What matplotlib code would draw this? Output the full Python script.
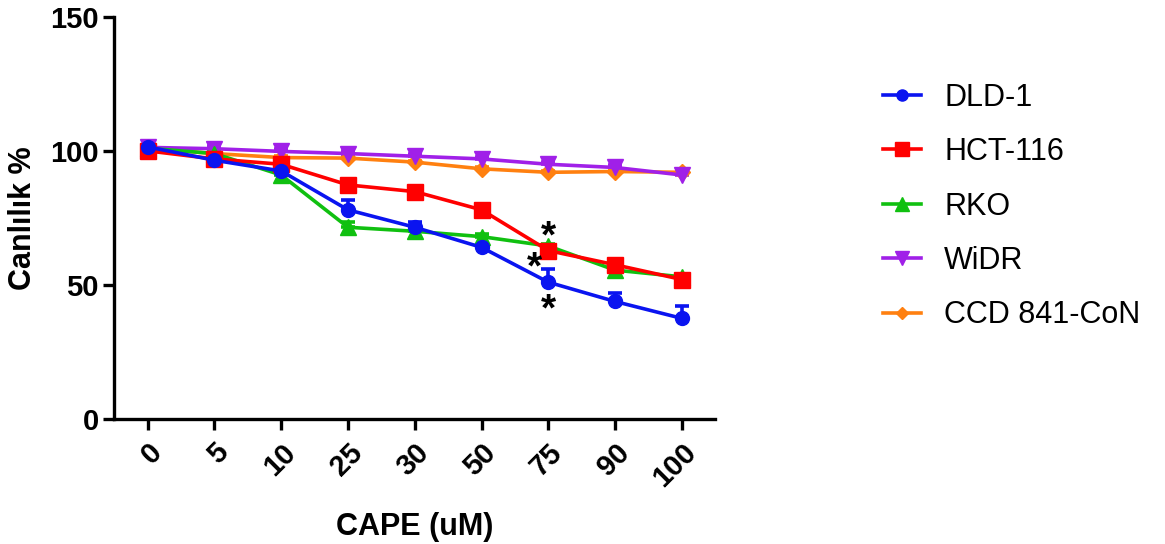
import matplotlib.pyplot as plt
import numpy as np
from matplotlib.lines import Line2D

plt.rcParams["font.family"] = ["Liberation Sans", "DejaVu Sans"]

doses = ["0", "5", "10", "25", "30", "50", "75", "90", "100"]

dld1 = [101.5, 96.5, 92.5, 78, 71.5, 64, 51, 43.8, 37.5]
dld1_err = [0.8, 0.8, 1.0, 3.7, 2.0, 0.8, 4.8, 3.2, 4.5]
hct116 = [100, 97, 95, 87.3, 84.8, 78, 62.8, 57.5, 52]
hct116_err = [0.5, 0.5, 0.6, 0.8, 0.8, 0.8, 1.0, 1.0, 0.8]
rko = [101, 99, 91, 71.5, 70, 68, 64.5, 55.5, 53]
rko_err = [0.5, 0.5, 0.8, 1.8, 1.2, 0.8, 0.8, 1.0, 0.5]
widr = [101.3, 100.8, 99.8, 99, 98, 97, 95, 93.8, 91]
widr_err = [0.5, 1.0, 1.0, 1.0, 0.8, 0.8, 0.8, 0.8, 0.5]
ccd = [101, 99, 97.5, 97.3, 95.8, 93.3, 92, 92.3, 92]
ccd_err = [0.5, 0.5, 0.5, 0.5, 0.5, 0.5, 0.5, 0.5, 0.5]

# significance stars at 75 uM: (series value, y offset, x offset)
stars = [(rko[6], 3.0, 0.0), (hct116[6], -6.5, -0.2), (dld1[6], -10.5, 0.0)]

series = [
    ("DLD-1", dld1, dld1_err, "#0A14F0", "o", 10),
    ("HCT-116", hct116, hct116_err, "#FF0000", "s", 12),
    ("RKO", rko, rko_err, "#10C010", "^", 12),
    ("WiDR", widr, widr_err, "#A020E8", "v", 12),
    ("CCD 841-CoN", ccd, ccd_err, "#FF8010", "D", 8),
]

fig = plt.figure(figsize=(11.65, 5.44), dpi=100)
ax = fig.add_axes([0.098, 0.23, 0.516, 0.739])

x = np.arange(len(doses))
handles = []
for name, vals, err, col, mk, ms in reversed(series):
    ax.errorbar(x, vals, yerr=[np.zeros(len(err)), err], color=col,
                marker=mk, markersize=ms, linewidth=2.6, elinewidth=2.6,
                capsize=5, capthick=2.6, zorder=3)
for name, vals, err, col, mk, ms in series:
    handles.append(Line2D([], [], color=col, marker=mk, linewidth=2.6,
                          markersize=ms * 0.8, label=name))

for val, dy, dx in stars:
    ax.text(6 + dx, val + dy, "*", ha="center", va="center",
            fontsize=28, fontweight="bold", zorder=5)

ax.set_xlim(-0.5, 8.5)
ax.set_ylim(0, 150)
ax.set_yticks([0, 50, 100, 150])
ax.set_xticks(x)
ax.set_xticklabels(doses, rotation=45, ha="right", rotation_mode="anchor")
ax.spines["top"].set_visible(False)
ax.spines["right"].set_visible(False)
for sp in ("left", "bottom"):
    ax.spines[sp].set_linewidth(2.4)
ax.tick_params(width=2.4, length=8, labelsize=21)
ax.tick_params(axis="y", pad=3)
ax.tick_params(axis="x", pad=6)
for lbl in ax.get_xticklabels() + ax.get_yticklabels():
    lbl.set_fontweight("bold")

ax.set_ylabel("Canlılık %", fontsize=22, fontweight="bold", labelpad=9)
ax.set_xlabel("CAPE (uM)", fontsize=22, fontweight="bold", labelpad=14)

fig.legend(handles=handles, loc="upper left", bbox_to_anchor=(0.758, 0.848),
           frameon=False, fontsize=22, handlelength=1.25, labelspacing=0.8,
           handletextpad=0.75, borderpad=0, borderaxespad=0)

fig.savefig("out.png", dpi=100)
